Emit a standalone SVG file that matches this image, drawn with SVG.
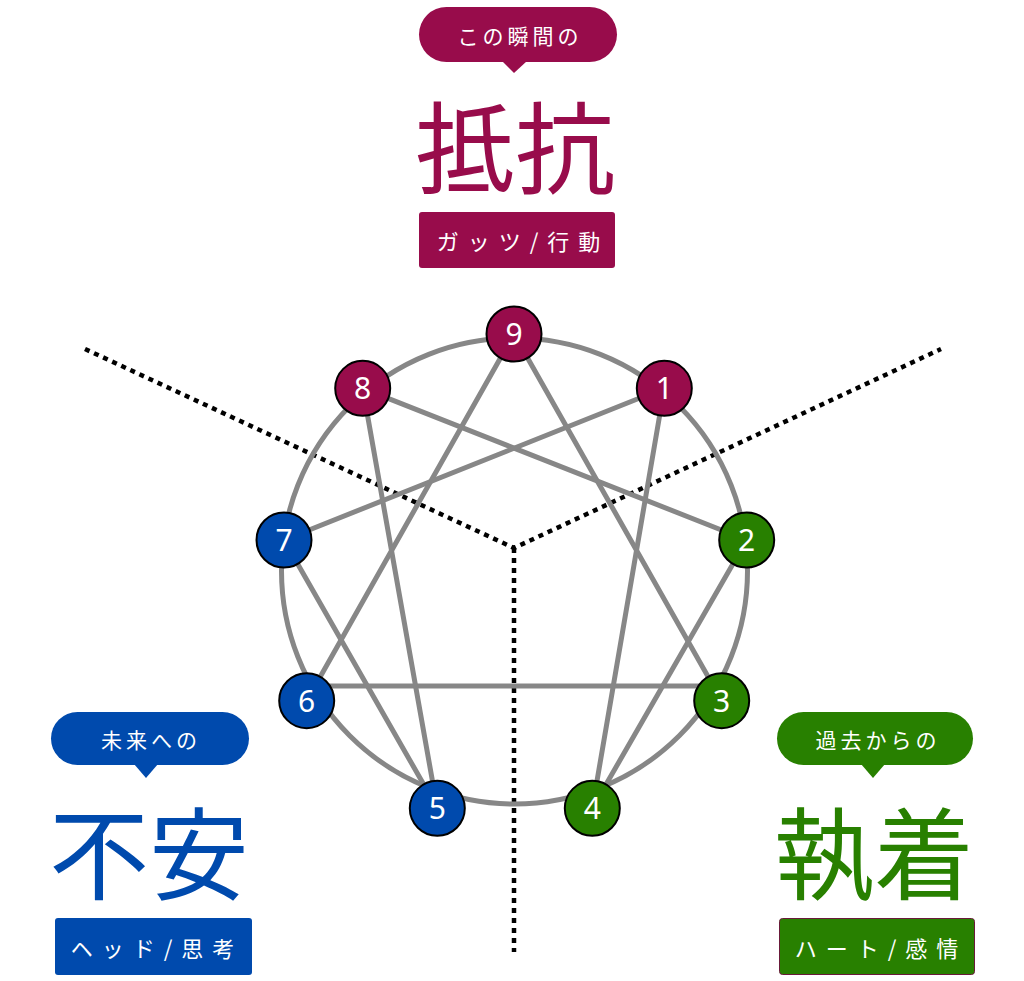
<svg xmlns="http://www.w3.org/2000/svg" width="1024" height="981" viewBox="0 0 1024 981">
<style>
.ring{fill:none;stroke:#878787;stroke-width:5}
.ln{stroke:#878787;stroke-width:5;stroke-linecap:round}
.dot{fill:none;stroke:#000;stroke-width:4.5;stroke-dasharray:5 5}
.node circle{stroke:#000;stroke-width:2}
.num{font-family:"Noto Sans","Open Sans",sans-serif;font-size:30px;fill:#fff;text-anchor:middle}
.m{fill:#980c4b}.b{fill:#004aad}.g{fill:#288000}
.small{font-family:"Noto Sans CJK JP",sans-serif;font-size:21px;fill:#fff;text-anchor:middle;letter-spacing:4px}
.big{font-family:"Noto Sans CJK JP",sans-serif;font-size:100px;font-weight:400;text-anchor:middle}
.lab{font-family:"Noto Sans CJK JP",sans-serif;font-size:22px;fill:#fff;text-anchor:middle;letter-spacing:9px}
</style>
<g id="dividers">
<polyline class="dot" points="85,349 514,548 941,349"/>
<line class="dot" x1="514" y1="548" x2="514" y2="952"/>
</g>
<g id="connectors">
<circle class="ring" cx="514.5" cy="571" r="233"/>
<line class="ln" x1="514" y1="334" x2="306.7" y2="700.7"/>
<line class="ln" x1="514" y1="334" x2="721.7" y2="700.7"/>
<line class="ln" x1="306.7" y1="686" x2="721.7" y2="686"/>
<line class="ln" x1="664.3" y1="388.3" x2="592.3" y2="808.3"/>
<line class="ln" x1="592.3" y1="808.3" x2="746.7" y2="540"/>
<line class="ln" x1="746.7" y1="540" x2="362.7" y2="388.3"/>
<line class="ln" x1="362.7" y1="388.3" x2="437.3" y2="808.3"/>
<line class="ln" x1="437.3" y1="808.3" x2="284" y2="540"/>
<line class="ln" x1="284" y1="540" x2="664.3" y2="388.3"/>
</g>
<g id="node9" class="node"><circle class="m" cx="514" cy="334" r="27.5"/><text class="num" x="514" y="345">9</text></g>
<g id="node8" class="node"><circle class="m" cx="362.7" cy="388.3" r="27.5"/><text class="num" x="362.7" y="399">8</text></g>
<g id="node1" class="node"><circle class="m" cx="664.3" cy="388.3" r="27.5"/><text class="num" x="664.3" y="399">1</text></g>
<g id="node7" class="node"><circle class="b" cx="284" cy="540" r="27.5"/><text class="num" x="284" y="551">7</text></g>
<g id="node2" class="node"><circle class="g" cx="746.7" cy="540" r="27.5"/><text class="num" x="746.7" y="551">2</text></g>
<g id="node6" class="node"><circle class="b" cx="306.7" cy="700.7" r="27.5"/><text class="num" x="306.7" y="711.5">6</text></g>
<g id="node3" class="node"><circle class="g" cx="721.7" cy="700.7" r="27.5"/><text class="num" x="721.7" y="711.5">3</text></g>
<g id="node5" class="node"><circle class="b" cx="437.3" cy="808.3" r="27.5"/><text class="num" x="437.3" y="819">5</text></g>
<g id="node4" class="node"><circle class="g" cx="592.3" cy="808.3" r="27.5"/><text class="num" x="592.3" y="819">4</text></g>

<g id="gut">
<rect class="m" x="419" y="7" width="198" height="55" rx="27.5"/>
<polygon class="m" points="502,61 527,61 514,73"/>
<text class="small" x="520" y="44">この瞬間の</text>
<text class="big m" x="515" y="186">抵抗</text>
<rect class="m" x="419" y="212" width="196" height="56" rx="3"/>
<text class="lab" x="523" y="250">ガッツ/行動</text>
</g>
<g id="head">
<rect class="b" x="51" y="712" width="198" height="53" rx="26.5"/>
<polygon class="b" points="134,764 158,764 146,778"/>
<text class="small" x="151" y="748">未来への</text>
<text class="big b" x="149" y="892">不安</text>
<rect class="b" x="55" y="918" width="197" height="57" rx="3"/>
<text class="lab" x="157" y="957">ヘッド/思考</text>
</g>
<g id="heart">
<rect class="g" x="777" y="712" width="196" height="53" rx="26.5"/>
<polygon class="g" points="861,764 885,764 873,778"/>
<text class="small" x="878" y="748">過去からの</text>
<text class="big g" x="874" y="892">執着</text>
<rect class="g" x="779.5" y="918.5" width="195" height="56" rx="3" stroke="#6a1a3a" stroke-width="1"/>
<text class="lab" x="881" y="957">ハート/感情</text>
</g>
</svg>
